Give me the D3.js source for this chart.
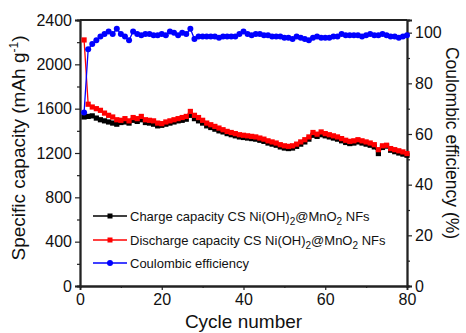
<!DOCTYPE html>
<html><head><meta charset="utf-8">
<script src="https://cdn.jsdelivr.net/npm/d3@7"></script>
<style>body{margin:0;background:#fff}svg{display:block}text{font-family:"Liberation Sans",Arial,sans-serif}</style>
</head><body><svg id="c" width="466" height="333"></svg>
<script>
const cycles = d3.range(1, 81);
const discharge = [
2220,1640,1615,1600,1585,1560,1540,1525,1500,1495,
1510,1490,1520,1510,1530,1500,1495,1490,1470,1465,
1480,1490,1500,1510,1520,1530,1575,1540,1520,1495,
1470,1455,1440,1425,1410,1395,1385,1375,1365,1360,
1355,1350,1345,1335,1325,1310,1300,1290,1275,1265,
1260,1265,1280,1300,1320,1345,1385,1370,1390,1375,
1365,1355,1345,1330,1315,1305,1310,1320,1310,1300,
1290,1275,1230,1265,1270,1240,1230,1220,1210,1195];
const charge = [
1525,1530,1535,1515,1500,1490,1480,1470,1460,1475,
1480,1470,1495,1485,1500,1475,1470,1460,1445,1450,
1460,1470,1480,1490,1495,1505,1540,1510,1490,1470,
1445,1430,1415,1400,1390,1375,1365,1355,1345,1340,
1335,1330,1325,1315,1305,1290,1280,1270,1255,1245,
1240,1245,1260,1280,1300,1325,1360,1350,1365,1355,
1345,1335,1325,1310,1295,1285,1290,1300,1290,1280,
1270,1255,1195,1250,1262,1225,1212,1200,1190,1180];
const coulombic = [
68.5,93.5,95.5,97,98.5,99.5,100.5,99.5,101.5,99.5,
98.5,97,100.5,99.5,99,99.5,99.5,99,99,99.5,
99,100.5,100,99,100,99.5,101.5,97.5,98.5,98.5,
98.5,98.5,98.5,98,98.5,98.5,98.5,98.5,99.5,100.5,
99.5,99,99.5,99.5,99,99,98.5,98.5,98.5,98,
98,97.5,98.5,98,97.5,97,98,98.5,98,98,
98,98.5,98.5,99.5,99,99,99,99,98.5,99,
99.5,99,99,99.5,99,98.5,98.5,98,98.5,99];
const xTicks = [0,20,40,60,80];
const yLeftTicks = [0,400,800,1200,1600,2000,2400];
const yRightTicks = [0,20,40,60,80,100];
const legendLabels = [
  ["Charge capacity CS Ni(OH)","2","@MnO","2"," NFs"],
  ["Discharge capacity CS Ni(OH)","2","@MnO","2"," NFs"],
  ["Coulombic efficiency"]];
const colors = ["#000000","#ff0000","#0000ff"];

const FONT='"Liberation Sans",Arial,sans-serif';
const L=80,R=407,T=20,B=286;
const svg=d3.select("#c");
const x=d3.scaleLinear().domain([0,80]).range([L,R]);
const y=d3.scaleLinear().domain([0,2400]).range([B,T]);
const y2=d3.scaleLinear().domain([0,105]).range([B,T]);
const fmt=d3.format("d");

svg.append("line").attr("x1",L).attr("x2",R).attr("y1",T).attr("y2",T).attr("stroke","#222").attr("stroke-width",1.8);

const fs=16;
const gl=svg.append("g").attr("transform",`translate(${L},0)`)
 .call(d3.axisLeft(y).tickValues(yLeftTicks).tickFormat(fmt).tickSize(5).tickPadding(3));
const glm=svg.append("g").attr("transform",`translate(${L},0)`)
 .call(d3.axisLeft(y).tickValues(d3.range(200,2400,400)).tickSize(3).tickFormat(""));
const gr=svg.append("g").attr("transform",`translate(${R},0)`)
 .call(d3.axisRight(y2).tickValues(yRightTicks).tickFormat(fmt).tickSize(5).tickPadding(3));
const grm=svg.append("g").attr("transform",`translate(${R},0)`)
 .call(d3.axisRight(y2).tickValues(d3.range(10,100,20)).tickSize(3).tickFormat(""));
const gb=svg.append("g").attr("transform",`translate(0,${B})`)
 .call(d3.axisBottom(x).tickValues(xTicks).tickFormat(fmt).tickSize(4).tickPadding(3));
const gbm=svg.append("g").attr("transform",`translate(0,${B})`)
 .call(d3.axisBottom(x).tickValues([10,30,50,70]).tickSize(2).tickFormat(""));
[gl,glm,gr,grm,gb,gbm].forEach(g=>{
  g.attr("font-family",FONT);
  g.select(".domain").attr("stroke","#222").attr("stroke-width",1.8);
  g.selectAll(".tick line").attr("stroke","#222").attr("stroke-width",1.2);
  g.selectAll(".tick text").attr("font-size",fs).attr("fill","#111");
});
gb.selectAll(".tick text").attr("dy","0.75em");

svg.append("text").attr("x",(L+R)/2).attr("y",328).attr("text-anchor","middle").attr("font-size",19).attr("fill","#111").text("Cycle number");
const yl=svg.append("text").attr("transform",`translate(25,${(T+B)/2-5}) rotate(-90)`).attr("text-anchor","middle").attr("font-size",19).attr("fill","#111");
yl.append("tspan").text("Specific capacity (mAh g");
yl.append("tspan").attr("dy",-7).attr("font-size",12).text("-1");
yl.append("tspan").attr("dy",7).text(")");
svg.append("text").attr("transform",`translate(446,${(T+B)/2-10}) rotate(90)`).attr("text-anchor","middle").attr("font-size",17.5).attr("fill","#111").text("Coulombic efficiency (%)");

const line=(sc,arr)=>d3.line().x((d,i)=>x(cycles[i])).y(d=>sc(d))(arr);
function drawSeries(arr,sc,col,shape){
  const g=svg.append("g");
  g.append("path").attr("d",line(sc,arr)).attr("fill","none").attr("stroke",col).attr("stroke-width",1.3);
  if(shape==="sq"){
    g.selectAll("rect").data(arr).join("rect")
     .attr("x",(d,i)=>x(cycles[i])-2.6).attr("y",d=>sc(d)-2.6).attr("width",5.2).attr("height",5.2).attr("fill",col);
  } else {
    g.selectAll("circle").data(arr).join("circle")
     .attr("cx",(d,i)=>x(cycles[i])).attr("cy",d=>sc(d)).attr("r",3).attr("fill",col);
  }
}
drawSeries(charge,y,colors[0],"sq");
drawSeries(discharge,y,colors[1],"sq");
drawSeries(coulombic,y2,colors[2],"ci");

const ly=[216,240,263];
legendLabels.forEach((parts,i)=>{
  const g=svg.append("g");
  g.append("line").attr("x1",93).attr("x2",127).attr("y1",ly[i]).attr("y2",ly[i]).attr("stroke",colors[i]).attr("stroke-width",1.5);
  if(i<2) g.append("rect").attr("x",107.5).attr("y",ly[i]-2.5).attr("width",5).attr("height",5).attr("fill",colors[i]);
  else g.append("circle").attr("cx",110).attr("cy",ly[i]).attr("r",3).attr("fill",colors[i]);
  const t=g.append("text").attr("x",130).attr("y",ly[i]+4.5).attr("font-size",13).attr("fill","#111");
  parts.forEach((p,j)=>{
    if(j%2===1) t.append("tspan").attr("dy",4).attr("font-size",10).text(p);
    else t.append("tspan").attr("dy",j===0?0:-4).text(p);
  });
});
</script></body></html>
